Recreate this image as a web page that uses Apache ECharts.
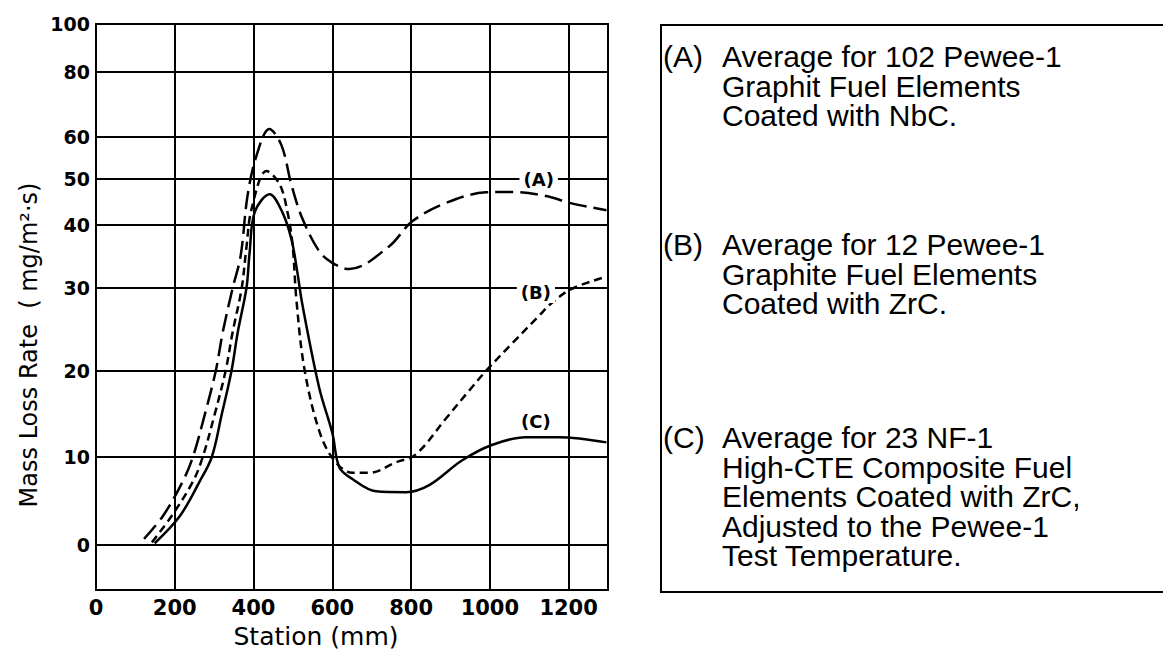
<!DOCTYPE html>
<html>
<head>
<meta charset="utf-8">
<title>Mass Loss Rate vs Station</title>
<script src="https://cdn.jsdelivr.net/npm/echarts@6/dist/echarts.min.js"></script>
<style>
  html, body { margin: 0; padding: 0; background: #fff; }
  #main { width: 1163px; height: 656px; }
</style>
</head>
<body>
<div id="main"></div>
<script>
// 曲线数据 station mm / mass loss rate mg/m2.s
const stationA = [122, 170, 220, 246, 276, 304, 322, 347, 367, 385, 408, 440, 471, 496, 524, 567, 600, 643, 744, 803, 889, 990, 1056, 1142, 1208, 1296];
const rateA = [0.7, 3.3, 7.2, 10, 14.9, 20, 24.7, 30, 35, 46.5, 55.7, 62.5, 58, 48.8, 41.4, 35.8, 34, 33, 36.6, 40.8, 44.8, 47.1, 47.2, 46.3, 44.7, 43.2];

const stationB = [142, 192, 246, 271, 301, 329, 347, 370, 382, 395, 433, 466, 486, 499, 509, 529, 567, 605, 651, 694, 762, 812, 889, 947, 990, 1056, 1124, 1157, 1208, 1296];
const rateB = [0.3, 3.3, 7.2, 10, 14.9, 20, 24.7, 30, 36.5, 43.5, 51.9, 48.9, 42.9, 36.9, 28.5, 20.3, 13.0, 9.6, 8.2, 8.2, 9.4, 10.3, 14.5, 17.7, 20, 23.3, 26.6, 28.2, 29.9, 31.8];

const stationC = [149, 213, 263, 294, 319, 344, 360, 382, 390, 403, 441, 473, 496, 511, 524, 567, 600, 618, 651, 711, 787, 846, 929, 1005, 1091, 1175, 1296];
const rateC = [0.2, 3.3, 7.2, 10, 14.9, 20, 24.7, 30, 35.6, 42.8, 46.7, 42.8, 37.8, 32.6, 28, 18, 12.8, 8.8, 7.5, 6.1, 6.0, 6.8, 9.6, 11.4, 12.3, 12.3, 11.7];

// y轴刻度：原图刻度不均匀，yTickPos 是每个刻度在轴上的位置
const yTicks = [0, 10, 20, 30, 40, 50, 60, 80, 100];
const yTickPos = [0, 88, 174, 257, 320, 366, 408, 473, 521];
const yAxisMin = -45;

// 曲线标注 (A)(B)(C)
const curveTags = ['(A)', '(B)', '(C)'];
const tagStation = [1124, 1117, 1117];
const tagRate = [50, 29.4, 14.1];

// 图例说明文字
const noteTags = ['(A)', '(B)', '(C)'];
const noteLines = [
  ['Average for 102 Pewee-1', 'Graphit Fuel Elements', 'Coated with NbC.'],
  ['Average for 12 Pewee-1', 'Graphite Fuel Elements', 'Coated with ZrC.'],
  ['Average for 23 NF-1', 'High-CTE Composite Fuel', 'Elements Coated with ZrC,', 'Adjusted to the Pewee-1', 'Test Temperature.']
];

// 分段线性映射 value -> 轴位置
function toPos(v) {
  let i = 0;
  while (i < yTicks.length - 2 && v > yTicks[i + 1]) i++;
  const t = (v - yTicks[i]) / (yTicks[i + 1] - yTicks[i]);
  return yTickPos[i] + t * (yTickPos[i + 1] - yTickPos[i]);
}

function pairs(xs, ys) {
  return xs.map((x, i) => [x, toPos(ys[i])]);
}

const tickFont = 'DejaVu Sans';
const noteFont = 'Liberation Sans';

const myChart = echarts.init(document.getElementById('main'), null, { renderer: 'svg' });

const dashTypes = [[18, 7], [8, 5], 'solid'];
const seriesData = [pairs(stationA, rateA), pairs(stationB, rateB), pairs(stationC, rateC)];

const curveSeries = seriesData.map((d, k) => ({
  type: 'line',
  data: d,
  smooth: 0.35,
  symbol: 'none',
  z: 5,
  lineStyle: { color: '#000', width: 2.5, type: dashTypes[k] },
  markPoint: {
    symbol: 'rect',
    symbolSize: 0,
    silent: true,
    z: 10,
    label: {
      show: true,
      formatter: curveTags[k],
      position: 'inside',
      color: '#000',
      fontFamily: tickFont,
      fontWeight: 'bold',
      fontSize: 18,
      backgroundColor: '#fff',
      padding: [1, 4]
    },
    data: [{ coord: [tagStation[k], toPos(tagRate[k])] }]
  }
}));

// 水平网格线
const gridLineSeries = {
  type: 'line',
  data: [],
  silent: true,
  z: 1,
  markLine: {
    silent: true,
    symbol: ['none', 'none'],
    animation: false,
    label: { show: false },
    lineStyle: { color: '#000', width: 2, type: 'solid' },
    data: yTickPos.map((p) => ({ yAxis: p }))
  }
};

// 图例框和文字
const graphics = [{
  type: 'rect',
  shape: { x: 661, y: 25, width: 620, height: 567 },
  style: { fill: 'none', stroke: '#000', lineWidth: 2 }
}];
const blockTop = [67, 255, 448];
const noteStyle = '29px "' + noteFont + '"';
noteLines.forEach((lines, k) => {
  graphics.push({
    type: 'text',
    x: 663, y: blockTop[k] - 10,
    scaleX: 1.035,
    style: { text: noteTags[k], font: noteStyle, fill: '#000', verticalAlign: 'middle' }
  });
  lines.forEach((line, j) => {
    graphics.push({
      type: 'text',
      x: 722, y: blockTop[k] - 10 + j * 29.5,
      scaleX: 1.035,
      style: { text: line, font: noteStyle, fill: '#000', verticalAlign: 'middle' }
    });
  });
});

const option = {
  animation: false,
  backgroundColor: '#fff',
  grid: {
    show: true,
    left: 96,
    right: 1163 - 608,
    top: 24,
    bottom: 66,
    borderColor: '#000',
    borderWidth: 2
  },
  xAxis: {
    type: 'value',
    min: 0,
    max: 1300,
    interval: 200,
    name: 'Station (mm)',
    nameLocation: 'middle',
    nameGap: 34,
    nameTextStyle: { color: '#000', fontFamily: tickFont, fontSize: 25, padding: [0, 72, 0, 0] },
    axisLine: { lineStyle: { color: '#000', width: 2 } },
    axisTick: { show: false },
    axisLabel: {
      color: '#000',
      fontFamily: tickFont,
      fontWeight: 'bold',
      fontSize: 21,
      margin: 7,
      showMaxLabel: false,
      formatter: function (value) {
        return String(value);
      }
    },
    splitLine: { show: true, lineStyle: { color: '#000', width: 2 } }
  },
  yAxis: {
    type: 'value',
    min: yAxisMin,
    max: yTickPos[yTickPos.length - 1],
    name: 'Mass Loss Rate  ( mg/m²·s)',
    nameLocation: 'middle',
    nameGap: 55,
    nameTextStyle: { color: '#000', fontFamily: tickFont, fontSize: 24, padding: [0, 76, 0, 0] },
    axisLine: { show: true, lineStyle: { color: '#000', width: 2 } },
    axisTick: { show: false },
    splitLine: { show: false },
    axisLabel: {
      color: '#000',
      fontFamily: tickFont,
      fontWeight: 'bold',
      fontSize: 19,
      margin: 6,
      customValues: yTickPos,
      formatter: function (value) {
        const i = yTickPos.findIndex((p) => Math.abs(p - value) < 0.01);
        return i >= 0 ? String(yTicks[i]) : '';
      }
    }
  },
  graphic: graphics,
  series: [gridLineSeries].concat(curveSeries)
};

option && myChart.setOption(option);
</script>
</body>
</html>
